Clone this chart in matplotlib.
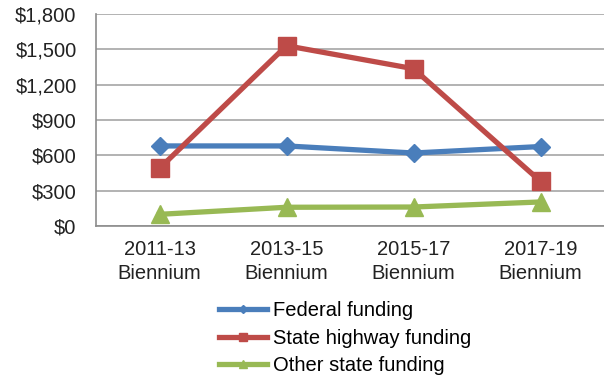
import matplotlib.pyplot as plt
from matplotlib.ticker import FuncFormatter

biennia = ['2011-13\nBiennium', '2013-15\nBiennium', '2015-17\nBiennium', '2017-19\nBiennium']
federal = [680, 680, 620, 675]
state_highway = [490, 1530, 1335, 380]
other_state = [100, 160, 162, 205]

plt.rcParams['font.family'] = ['Liberation Sans', 'DejaVu Sans']

fig = plt.figure(figsize=(6.04, 3.75), dpi=100)
ax = fig.add_axes([0.159, 0.397, 0.841, 0.566])

x = range(len(biennia))
ax.plot(x, federal, color='#4a7ebb', lw=3.8, marker='D', ms=9, label='Federal funding')
ax.plot(x, state_highway, color='#be4b48', lw=3.8, marker='s', ms=12.5, label='State highway funding')
ax.plot(x, other_state, color='#98b954', lw=3.8, marker='^', ms=13, label='Other state funding')

ax.set_xlim(-0.5, 3.5)
ax.set_ylim(0, 1800)
ax.set_yticks(range(0, 1801, 300))
ax.yaxis.set_major_formatter(FuncFormatter(lambda v, p: '${:,.0f}'.format(v)))
ax.set_xticks(list(x))
ax.set_xticklabels(biennia, linespacing=1.3)
ax.grid(axis='y', color='#a6a6a6', lw=1.2)
ax.set_axisbelow(True)

for s in ['top', 'right']:
    ax.spines[s].set_visible(False)
for s in ['left', 'bottom']:
    ax.spines[s].set_color('#8c8c8c')
    ax.spines[s].set_linewidth(1.2)

ax.tick_params(axis='y', length=0, pad=14, labelsize=14.5, colors='#222222')
ax.tick_params(axis='x', length=0, pad=10, labelsize=14.5, colors='#222222')

fig.legend(loc='upper left', bbox_to_anchor=(0.362, 0.197), frameon=False,
           fontsize=14.5, handlelength=2.4, handletextpad=0.3, labelspacing=0.42,
           borderpad=0, borderaxespad=0, markerscale=0.45)

fig.savefig('out.png', dpi=100)
